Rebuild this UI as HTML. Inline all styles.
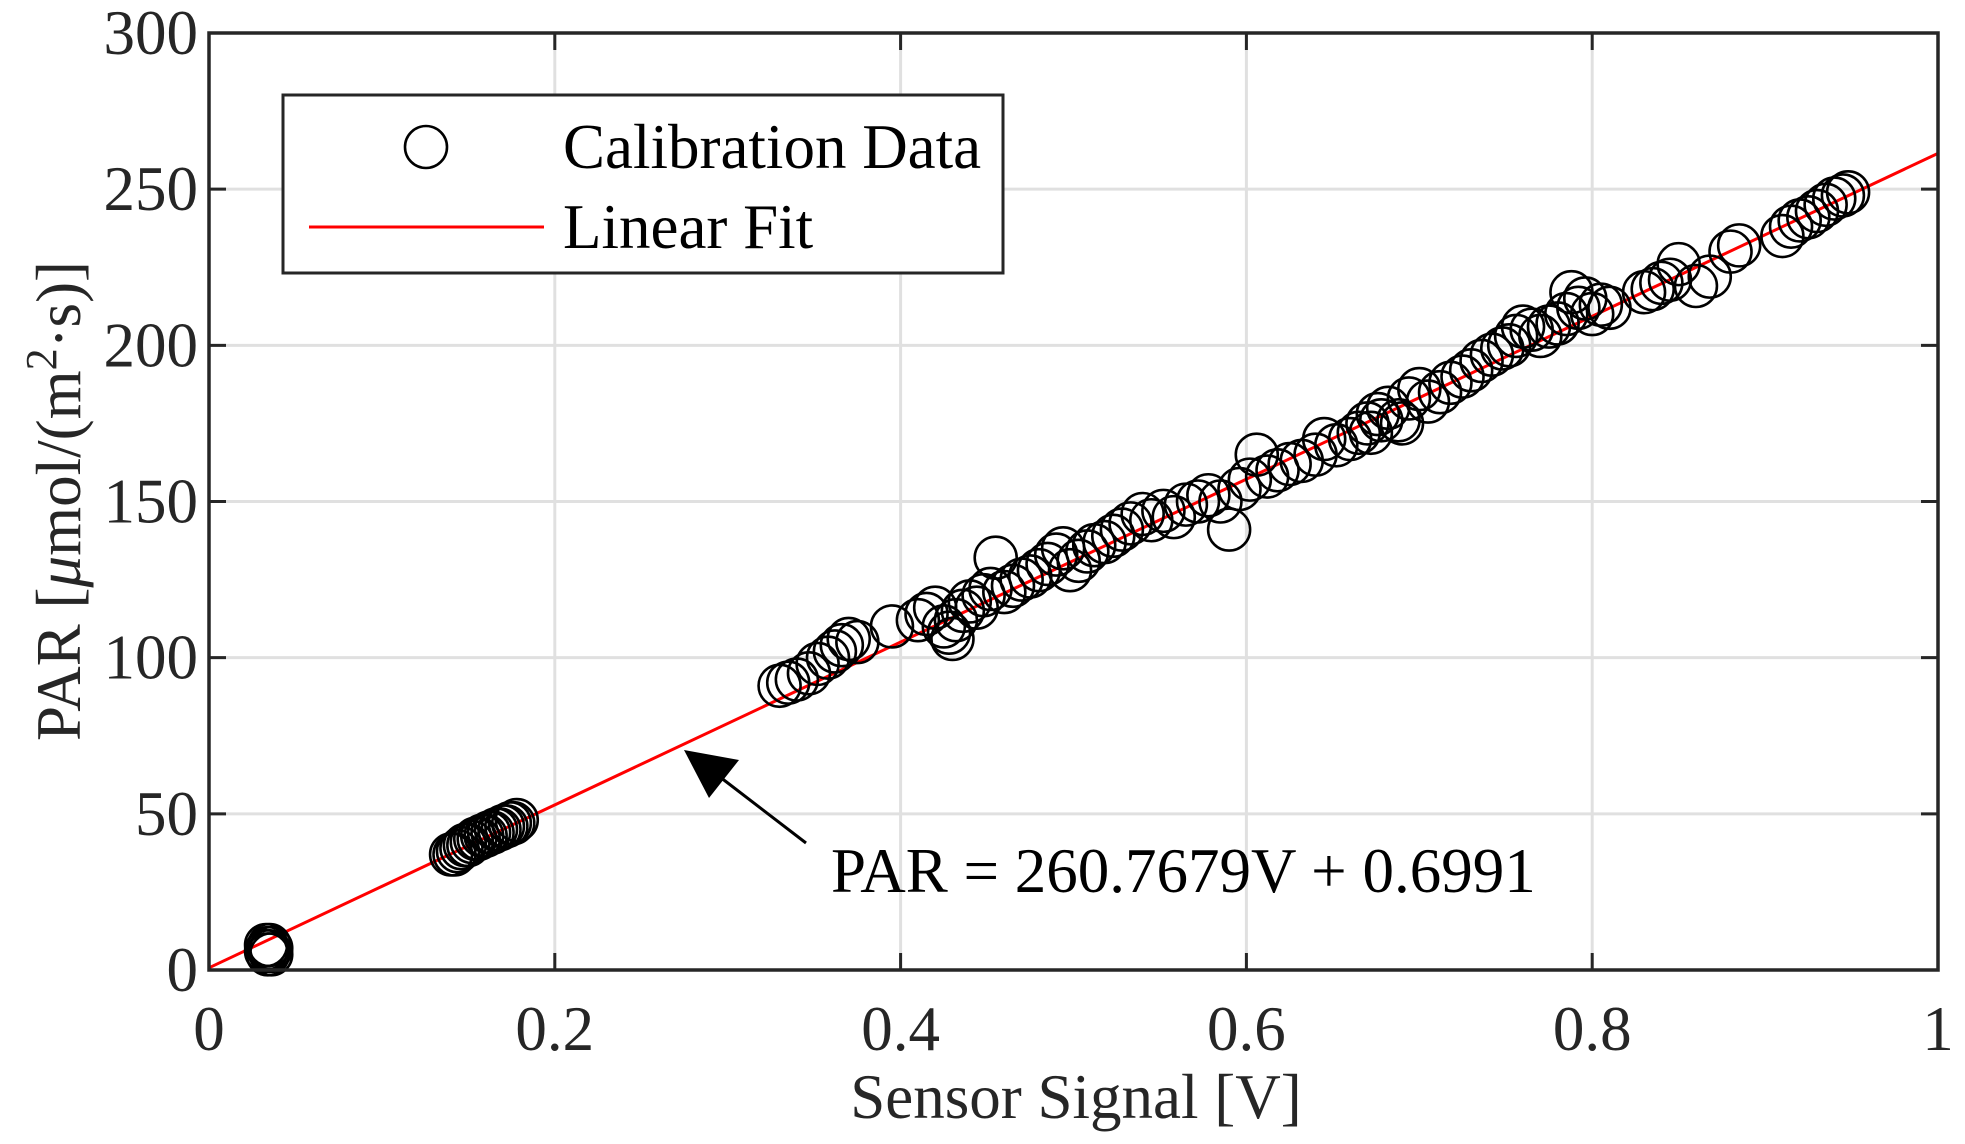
<!DOCTYPE html>
<html><head><meta charset="utf-8"><style>
html,body{margin:0;padding:0;background:#fff;}
svg{display:block;font-family:"Liberation Serif",serif;}
</style></head><body>
<svg id="chart" width="1965" height="1144" viewBox="0 0 1965 1144" xmlns="http://www.w3.org/2000/svg">
<g id="grid"></g>
<g id="fit"></g>
<g id="pts"></g>
<g id="axes"></g>
<g>
<rect x="283" y="95" width="720" height="178" fill="#fff" stroke="#262626" stroke-width="3"/>
<circle cx="426" cy="147" r="21" fill="none" stroke="#000" stroke-width="2.6"/>
<text x="563" y="168" font-size="63" fill="#000">Calibration Data</text>
<line x1="309" y1="227" x2="544" y2="227" stroke="#f00" stroke-width="3"/>
<text x="563" y="248" font-size="63" fill="#000">Linear Fit</text>
</g>
<g>
<line x1="806" y1="843" x2="720" y2="777" stroke="#000" stroke-width="3"/>
<polygon points="684,750 739,760 709,798" fill="#000"/>
<text x="831" y="892" font-size="63" fill="#000">PAR = 260.7679V + 0.6991</text>
</g>
<text x="1076" y="1118" font-size="63" text-anchor="middle" fill="#262626">Sensor Signal [V]</text>
<text transform="translate(80,501) rotate(-90)" font-size="63" text-anchor="middle" fill="#262626">PAR [<tspan font-style="italic">μ</tspan>mol/(m<tspan dy="-24" font-size="44">2</tspan><tspan dy="24">·s)]</tspan></text>
</svg>
<script>
const xTicks=[0,0.2,0.4,0.6,0.8,1];
const xTickLabels=["0","0.2","0.4","0.6","0.8","1"];
const yTicks=[0,50,100,150,200,250,300];
const yTickLabels=["0","50","100","150","200","250","300"];
const slope=260.7679;
const intercept=0.6991;
const dataX=[
0.033,0.034,0.035,0.034,0.036,0.035,0.033,0.036,
0.140,0.142,0.144,0.146,0.148,0.150,0.152,0.154,0.156,0.158,
0.160,0.162,0.164,0.166,0.168,0.170,0.172,0.174,0.176,0.178,
0.330,0.335,0.340,0.347,0.352,0.358,0.362,0.366,0.370,0.375,
0.395,0.410,0.415,0.420,0.425,0.428,0.432,0.436,0.440,0.444,
0.448,0.452,0.455,0.460,0.465,0.470,0.475,0.480,0.485,0.490,
0.494,0.498,0.503,0.508,0.512,0.518,0.523,0.528,0.533,0.540,
0.545,0.552,0.558,0.565,0.572,0.578,0.585,0.590,0.596,0.602,
0.606,0.612,0.618,0.625,0.632,0.640,0.645,0.652,0.660,0.665,
0.670,0.676,0.682,0.688,0.694,0.700,0.705,0.712,0.718,0.725,
0.730,0.736,0.742,0.748,0.752,0.756,0.760,0.765,0.770,0.775,
0.780,0.785,0.788,0.792,0.796,0.800,0.805,0.810,0.830,0.835,
0.840,0.845,0.850,0.860,0.868,0.880,0.885,0.910,0.915,0.920,
0.925,0.930,0.935,0.940,0.945,0.948,0.672,0.678,0.690,0.430];
const dataY=[
6,7,8,5,7,6,8,5,
37,37,38,39,40,40,41,42,42,43,
43,44,44,45,45,46,46,47,47,48,
91,92,93,95,98,100,102,104,106,105,
110,112,114,116,110,108,112,115,118,116,
120,122,132,121,123,125,126,128,130,133,
135,128,131,134,136,137,139,141,143,146,
144,147,145,149,150,152,150,141,154,157,
165,158,160,162,163,165,170,168,170,172,
175,178,180,176,183,186,182,185,188,190,
192,195,197,199,200,203,206,205,203,206,
207,210,217,212,215,210,213,212,217,218,
220,221,226,219,222,230,232,235,238,240,
241,243,245,247,248,249,172,176,175,106];
const L=209,R=1938,T=33,B=970;
const sx=v=>L+(v-0)/(1-0)*(R-L);
const sy=v=>B-(v-0)/(300-0)*(B-T);
const NS="http://www.w3.org/2000/svg";
function mk(tag,parent,attrs){const e=document.createElementNS(NS,tag);for(const k in attrs)e.setAttribute(k,attrs[k]);parent.appendChild(e);return e;}
const grid=document.getElementById('grid'),axes=document.getElementById('axes'),pts=document.getElementById('pts'),fit=document.getElementById('fit');
xTicks.forEach((t,i)=>{
 const x=sx(t);
 if(i>0&&i<xTicks.length-1){const g=mk('line',grid,{x1:x,x2:x,y1:T,y2:B,stroke:'#e0e0e0','stroke-width':3});
 
 }
 const a=mk('line',axes,{x1:x,x2:x,y1:B,y2:B-17,stroke:'#262626','stroke-width':3});
 
 
 const b=mk('line',axes,{x1:x,x2:x,y1:T,y2:T+17,stroke:'#262626','stroke-width':3});
 
 
 const tx=mk('text',axes,{x:x,y:1050,'font-size':63,'text-anchor':'middle',fill:'#262626'});
 tx.textContent=xTickLabels[i];
 
 
});
yTicks.forEach((t,i)=>{
 const y=sy(t);
 if(i>0&&i<yTicks.length-1){const g=mk('line',grid,{x1:L,x2:R,y1:y,y2:y,stroke:'#e0e0e0','stroke-width':3});
 
 }
 const a=mk('line',axes,{x1:L,x2:L+17,y1:y,y2:y,stroke:'#262626','stroke-width':3});
 
 
 const b=mk('line',axes,{x1:R,x2:R-17,y1:y,y2:y,stroke:'#262626','stroke-width':3});
 
 
 const tx=mk('text',axes,{x:198,y:y+21,'font-size':63,'text-anchor':'end',fill:'#262626'});
 tx.textContent=yTickLabels[i];
 
 
});
const box=mk('rect',axes,{x:L,y:T,width:R-L,height:B-T,fill:'none',stroke:'#262626','stroke-width':3.5});


const fl=mk('line',fit,{x1:sx(0),y1:sy(intercept),x2:sx(1),y2:sy(slope+intercept),stroke:'#f00','stroke-width':3});


dataX.forEach((v,i)=>{
 const c=mk('circle',pts,{cx:sx(v),cy:sy(dataY[i]),r:21,fill:'none',stroke:'#000','stroke-width':2.6});
 
 
});
</script>
</body></html>
